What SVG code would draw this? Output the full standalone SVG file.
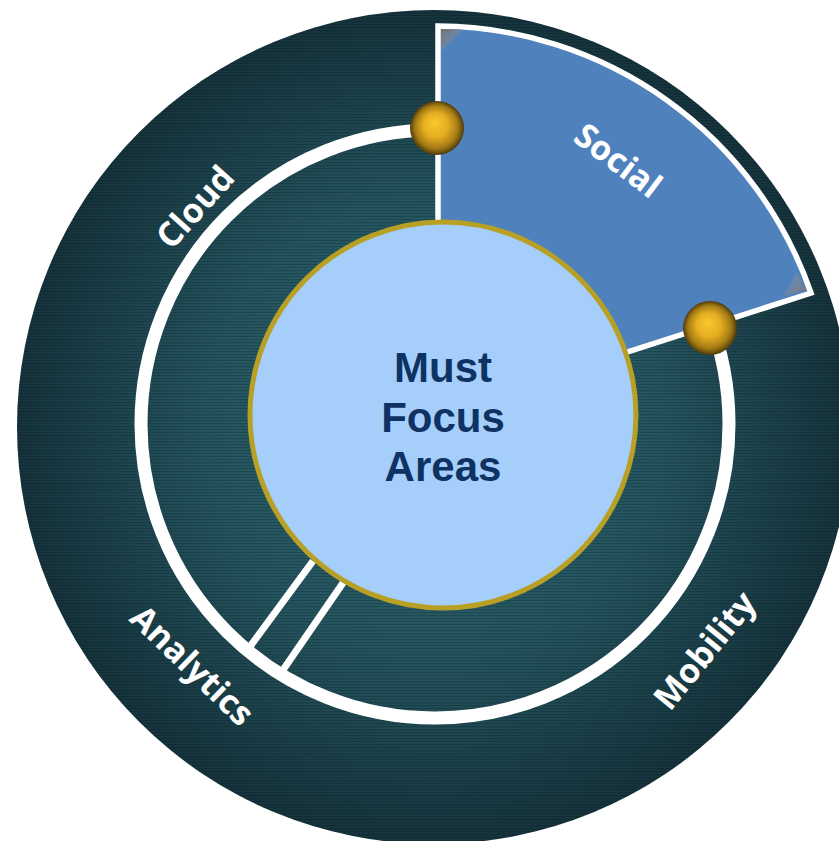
<svg xmlns="http://www.w3.org/2000/svg" width="839" height="841" viewBox="0 0 839 841">
<defs>
<radialGradient id="darkGrad" cx="434" cy="427" r="417" gradientUnits="userSpaceOnUse">
<stop offset="0" stop-color="#2E6670"/>
<stop offset="0.55" stop-color="#245560"/>
<stop offset="1" stop-color="#16343D"/>
</radialGradient>
<pattern id="stripes" width="10" height="3" patternUnits="userSpaceOnUse">
<rect width="10" height="1.2" fill="#000" fill-opacity="0.18"/>
</pattern>
<radialGradient id="ball" cx="0.5" cy="0.5" r="0.5" fx="0.45" fy="0.4">
<stop offset="0" stop-color="#F9C82E"/>
<stop offset="0.45" stop-color="#E6AE22"/>
<stop offset="0.8" stop-color="#A27A14"/>
<stop offset="1" stop-color="#4E3A0C"/>
</radialGradient>
<linearGradient id="cornerA" x1="0" y1="0" x2="1" y2="1">
<stop offset="0" stop-color="#6E6E6E"/>
<stop offset="1" stop-color="#A8A8A8" stop-opacity="0"/>
</linearGradient>
<linearGradient id="cornerB" x1="1" y1="1" x2="0" y2="0">
<stop offset="0" stop-color="#6E6E6E"/>
<stop offset="1" stop-color="#A8A8A8" stop-opacity="0"/>
</linearGradient>
</defs>
<style>
.label { font-family: "Open Sans", "Liberation Sans", sans-serif; font-weight: 700; font-size: 34px; fill: #FFFFFF; text-anchor: middle; }
.center { font-family: "Liberation Sans", Arial, sans-serif; font-weight: bold; font-size: 42px; fill: #0E3263; text-anchor: middle; }
.wline { stroke: #FFFFFF; fill: none; }
</style>

<g id="background">
<circle cx="434" cy="427" r="417" fill="url(#darkGrad)"/>
<circle cx="434" cy="427" r="417" fill="url(#stripes)"/>
</g>

<g id="connectors">
<circle class="wline" cx="435" cy="424" r="294" stroke-width="13"/>
<line class="wline" x1="313" y1="561" x2="249" y2="648" stroke-width="7"/>
<line class="wline" x1="345" y1="580" x2="283" y2="670" stroke-width="7"/>
</g>

<g id="node-social">
<path d="M 438 423 L 438 26 A 397 397 0 0 1 811 293 L 450 409 Z" fill="#4F81BD" stroke="#FFFFFF" stroke-width="5.5" stroke-linejoin="miter"/>
<polygon points="441,29 463,29 441,51" fill="url(#cornerA)"/>
<polygon points="806,290 797,272 784,296" fill="url(#cornerB)"/>
<text class="label" x="0" y="0" transform="translate(611,170) rotate(37)">Social</text>
</g>

<g id="node-center">
<circle cx="443" cy="415" r="193" fill="#A6CEFB" stroke="#B8A024" stroke-width="5"/>
<text class="center" x="443" y="382">Must</text>
<text class="center" x="443" y="432">Focus</text>
<text class="center" x="443" y="481">Areas</text>
</g>

<g id="node-cloud">
<text class="label" x="0" y="0" transform="translate(204,215) rotate(-48)">Cloud</text>
</g>

<g id="node-analytics">
<text class="label" x="0" y="0" transform="translate(184,674) rotate(44)">Analytics</text>
</g>

<g id="node-mobility">
<text class="label" x="0" y="0" transform="translate(714,658) rotate(-51)">Mobility</text>
</g>

<g id="markers">
<circle cx="437" cy="128" r="27" fill="url(#ball)"/>
<circle cx="710" cy="328" r="27" fill="url(#ball)"/>
</g>
</svg>
